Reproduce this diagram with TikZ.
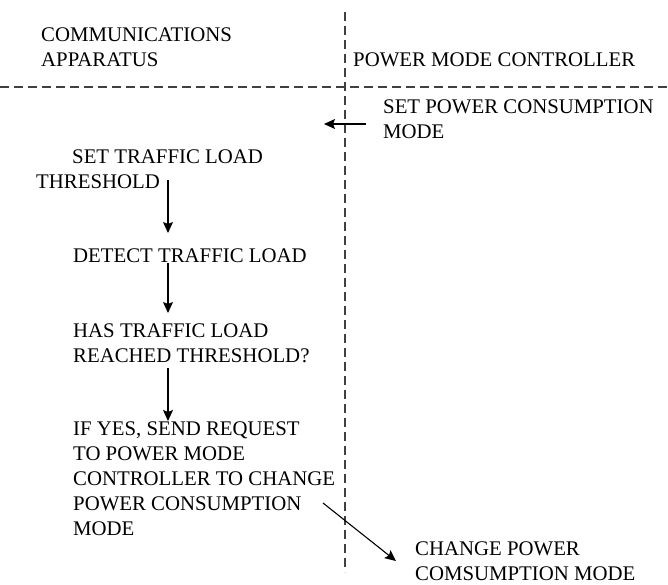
\documentclass[tikz,border=0pt]{standalone}
\usepackage{fontspec}
\setmainfont{Liberation Serif}
\usetikzlibrary{arrows.meta,positioning,calc}

\tikzset{
    lane/.style={draw=black!75, line width=1.2pt, dash pattern=on 9pt off 5pt},
    steptext/.style={anchor=base west, inner sep=0pt, align=left, font=\fontsize{20.8}{25}\selectfont},
    flow/.style={-{Stealth[length=11pt,width=10pt,inset=2pt]}, line width=1.1pt}
}

\begin{document}
\begin{tikzpicture}[x=1pt, y=-1pt]
    \useasboundingbox (0,0) rectangle (668,584);

    % Swim lanes
    \draw[lane] (345,12) -- (345,572);
    \draw[lane] (0,87) -- (668,87);

    % Lane headers (anchored at the baseline of the last line)
    \node[steptext] (app) at (41,66) {COMMUNICATIONS\\APPARATUS};
    \node[steptext] (pmc) at (353,66) {POWER MODE CONTROLLER};

    % Power mode controller side
    \node[steptext] (setmode) at (383,138) {SET POWER CONSUMPTION\\MODE};
    \node[steptext] (chgmode) at (415,580) {CHANGE POWER\\COMSUMPTION MODE};

    % Communications apparatus side
    \node[steptext] (thresh) at (36,188) {\hspace*{36pt}SET TRAFFIC LOAD\\THRESHOLD};
    \node[steptext] (detect) at (73,262) {DETECT TRAFFIC LOAD};
    \node[steptext] (check) at (73,362) {HAS TRAFFIC LOAD\\REACHED THRESHOLD?};
    \node[steptext] (request) at (73,535) {IF YES, SEND REQUEST\\TO POWER MODE\\CONTROLLER TO CHANGE\\POWER CONSUMPTION\\MODE};

    % Arrows
    \coordinate (m1) at (366,124);
    \coordinate (m2) at (324,124);
    \coordinate (a1) at (168,180);
    \coordinate (a2) at (168,233);
    \coordinate (b1) at (168,263);
    \coordinate (b2) at (168,313);
    \coordinate (c1) at (168,368);
    \coordinate (c2) at (168,421);
    \coordinate (d1) at (323,503);
    \coordinate (d2) at (396,561);
    \draw[flow] (m1) -- (m2);
    \draw[flow] (a1) -- (a2);
    \draw[flow] (b1) -- (b2);
    \draw[flow] (c1) -- (c2);
    \draw[flow] (d1) -- (d2);
\end{tikzpicture}
\end{document}
